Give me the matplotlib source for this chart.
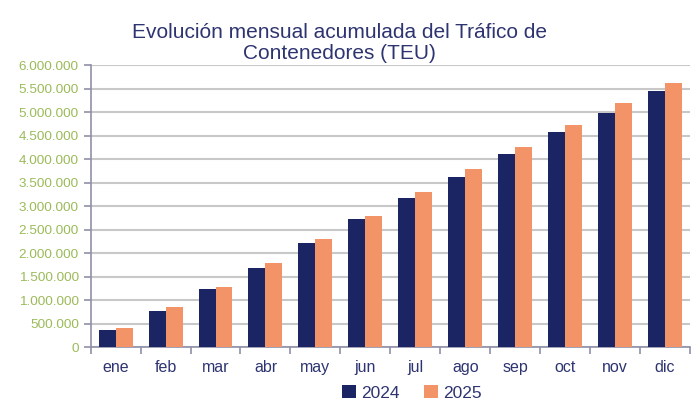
import numpy as np
import matplotlib
matplotlib.use("Agg")
import matplotlib.pyplot as plt
from matplotlib.ticker import FuncFormatter

# Tráfico de contenedores acumulado (TEU)
meses = ["ene", "feb", "mar", "abr", "may", "jun", "jul", "ago", "sep", "oct", "nov", "dic"]
teu_2024 = [370000, 760000, 1236000, 1687000, 2220000, 2716000, 3164000, 3620000, 4114000, 4586000, 4986000, 5450000]
teu_2025 = [404000, 851000, 1280000, 1790000, 2290000, 2786000, 3300000, 3786000, 4257000, 4721000, 5200000, 5621000]

AZUL = "#1B2563"
NARANJA = "#F29467"
VERDE = "#9BBB59"
TEXTO = "#2E3470"

plt.rcParams["font.family"] = ["Liberation Sans", "DejaVu Sans"]

fig = plt.figure(figsize=(6.92, 4.04), dpi=100)
ax = fig.add_axes([0.131, 0.141, 0.866, 0.698])

x = np.arange(len(meses))
ancho = 0.34
ax.bar(x - ancho / 2, teu_2024, ancho, color=AZUL, label="2024", zorder=3)
ax.bar(x + ancho / 2, teu_2025, ancho, color=NARANJA, label="2025", zorder=3)

ax.set_xlim(-0.5, len(meses) - 0.5)
ax.set_ylim(0, 6000000)
ax.set_yticks(np.arange(0, 6000001, 500000))
ax.yaxis.set_major_formatter(FuncFormatter(lambda v, p: f"{int(v):,}".replace(",", ".")))
ax.tick_params(axis="y", colors="#9090A8", labelcolor=VERDE, labelsize=9.7, length=5, width=1.2)

ax.set_xticks(x)
ax.set_xticklabels(meses)
ax.set_xticks(np.arange(-0.5, len(meses)), minor=True)
ax.tick_params(axis="x", which="major", length=0, labelcolor=TEXTO, labelsize=11.5, pad=9)
ax.tick_params(axis="x", which="minor", length=5, width=1.2, color="#9090A8")

ax.grid(axis="y", color="#C8C8C8", linewidth=1.5, zorder=0)
for lado in ["top", "right"]:
    ax.spines[lado].set_visible(False)
ax.spines["left"].set_color("#9090A8")
ax.spines["bottom"].set_color("#9090A8")
ax.spines["left"].set_linewidth(1.2)
ax.spines["bottom"].set_linewidth(1.2)

fig.text(0.49, 0.893, "Evolución mensual acumulada del Tráfico de\nContenedores (TEU)",
         ha="center", va="center", fontsize=15, color=TEXTO, linespacing=1.15)

fig.legend(loc="center", bbox_to_anchor=(0.595, 0.028), ncol=2, frameon=False,
           fontsize=12.5, handlelength=0.8, handleheight=0.8, handletextpad=0.3,
           columnspacing=1.4, labelcolor=TEXTO, borderpad=0.1)

fig.savefig("out.png", dpi=100, facecolor="white")
